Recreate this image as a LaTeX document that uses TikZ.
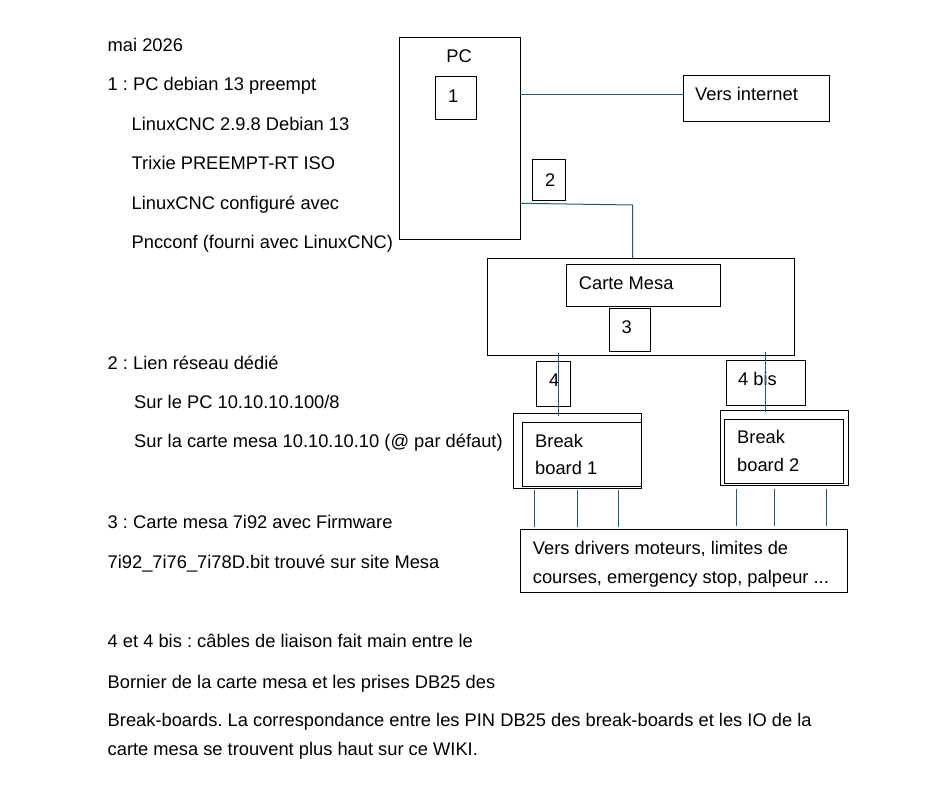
\documentclass[tikz,border=0pt]{standalone}
\usepackage{fontspec}
\setmainfont{Liberation Sans}
\frenchspacing
\definecolor{wirecol}{HTML}{156082}
\begin{document}
\begin{tikzpicture}[x=1pt,y=-1pt,
  box/.style={draw=black,line width=0.9pt,rectangle,inner sep=0pt},
  wire/.style={draw=wirecol,line width=1pt},
  lbl/.style={anchor=base west,inner sep=0pt,font=\fontsize{18.3}{20}\selectfont\frenchspacing}]
\fill[white] (0,0) rectangle (932,804);
\useasboundingbox (0,0) rectangle (932,804);
% boxes
\node[box,minimum width=120.7pt,minimum height=202pt] (pc) at (459.65,138) {};
\node[box,minimum width=40.6pt,minimum height=42.6pt] (b1) at (456,98) {};
\node[box,minimum width=146pt,minimum height=45.7pt] (inet) at (756.3,98.15) {};
\node[box,minimum width=32.6pt,minimum height=41.4pt] (b2) at (549,180) {};
\node[box,minimum width=307pt,minimum height=97.4pt] (mesa) at (640.8,307) {};
\node[box,minimum width=154pt,minimum height=41.7pt] (mesain) at (643.3,285.15) {};
\node[box,minimum width=41.4pt,minimum height=42.7pt] (b3) at (630,329.65) {};
\node[box,minimum width=34pt,minimum height=45pt] (b4) at (553.3,383.8) {};
\node[box,minimum width=79pt,minimum height=45pt] (b4b) at (765.8,382.8) {};
\node[box,minimum width=128.4pt,minimum height=74.6pt] (bbA) at (577.5,451) {};
\node[box,minimum width=118.7pt,minimum height=64pt] (bbAin) at (581.65,454) {};
\node[box,minimum width=128pt,minimum height=75pt] (bbB) at (784.3,447.8) {};
\node[box,minimum width=119pt,minimum height=63.7pt] (bbBin) at (783.8,451.15) {};
\node[box,minimum width=326.6pt,minimum height=63pt] (drv) at (684,560.8) {};
% box labels
\node[lbl,anchor=base] (tpc) at (459,62.3) {PC};
\node[lbl] (t1) at (448,102.3) {1};
\node[lbl] (t2) at (545,186.3) {2};
\node[lbl] (t3) at (621.5,333.3) {3};
\node[lbl] (t4) at (549,386.3) {4};
\node[lbl] (t4b) at (738,385.3) {4 bis};
\node[lbl] (tmesa) at (578.7,289.3) {Carte Mesa};
\node[lbl] (tinet) at (695,100.6) {Vers internet};
\node[lbl] (tbA1) at (535,447) {Break};
\node[lbl] (tbA2) at (535,474.6) {board 1};
\node[lbl] (tbB1) at (737,443.6) {Break};
\node[lbl] (tbB2) at (737,471.3) {board 2};
\node[lbl] (tdrv1) at (532.7,554.6) {Vers drivers moteurs, limites de};
\node[lbl] (tdrv2) at (532.7,583) {courses, emergency stop, palpeur ...};
% left text
\node[lbl] (l1) at (107.5,51.3) {mai 2026};
\node[lbl] (l2) at (107.5,90.3) {1 : PC debian 13 preempt};
\node[lbl] (l3) at (131.5,130.3) {LinuxCNC 2.9.8 Debian 13};
\node[lbl] (l4) at (131.5,169.3) {Trixie PREEMPT-RT ISO};
\node[lbl] (l5) at (131.5,209.3) {LinuxCNC configuré avec};
\node[lbl] (l6) at (131.5,248.3) {Pncconf (fourni avec LinuxCNC)};
\node[lbl] (l7) at (107.5,369.3) {2 : Lien réseau dédié};
\node[lbl] (l8) at (134,408.3) {Sur le PC 10.10.10.100/8};
\node[lbl] (l9) at (134,447.3) {Sur la carte mesa 10.10.10.10 (@ par défaut)};
\node[lbl] (l10) at (107.5,528.3) {3 : Carte mesa 7i92 avec Firmware};
\node[lbl] (l11) at (107.5,568.3) {7i92\_7i76\_7i78D.bit trouvé sur site Mesa};
\node[lbl] (l12) at (107.5,647.3) {4 et 4 bis : câbles de liaison fait main entre le};
\node[lbl] (l13) at (107.5,688.3) {Bornier de la carte mesa et les prises DB25 des};
\node[lbl] (l14) at (107.5,726.3) {Break-boards. La correspondance entre les PIN DB25 des break-boards et les IO de la};
\node[lbl] (l15) at (107.5,755.3) {carte mesa se trouvent plus haut sur ce WIKI.};
% connector helper coordinates
\coordinate (cI) at (0,94.3);
\coordinate (c2a) at (0,203.3);
\coordinate (c2b) at (632.7,205);
\coordinate (c4t) at (558.5,352.5);
\coordinate (c4e) at (558.5,416);
\coordinate (c4bt) at (765.7,351.5);
\coordinate (c4be) at (765.7,412.3);
\coordinate (pA1) at (534.3,0);
\coordinate (pA2) at (577.3,0);
\coordinate (pA3) at (618.3,0);
\coordinate (pB1) at (736.7,0);
\coordinate (pB2) at (774.3,0);
\coordinate (pB3) at (826,0);
% connectors
\draw[wire] (pc.east |- cI) -- (inet.west |- cI);
\draw[wire] (pc.east |- c2a) -- (c2b) -- (c2b |- mesa.north);
\draw[wire] (c4t) -- (c4e);
\draw[wire] (c4bt) -- (c4be);
\draw[wire] ([yshift=-1.5pt]bbA.south -| pA1) -- ([yshift=1.5pt]drv.north -| pA1);
\draw[wire] ([yshift=-1.5pt]bbA.south -| pA2) -- ([yshift=1.5pt]drv.north -| pA2);
\draw[wire] ([yshift=-1.5pt]bbA.south -| pA3) -- ([yshift=1.5pt]drv.north -| pA3);
\draw[wire] ([yshift=-3.5pt]bbB.south -| pB1) -- ([yshift=3.3pt]drv.north -| pB1);
\draw[wire] ([yshift=-3.5pt]bbB.south -| pB2) -- ([yshift=3.3pt]drv.north -| pB2);
\draw[wire] ([yshift=-3.5pt]bbB.south -| pB3) -- ([yshift=3.3pt]drv.north -| pB3);
\end{tikzpicture}
\end{document}
